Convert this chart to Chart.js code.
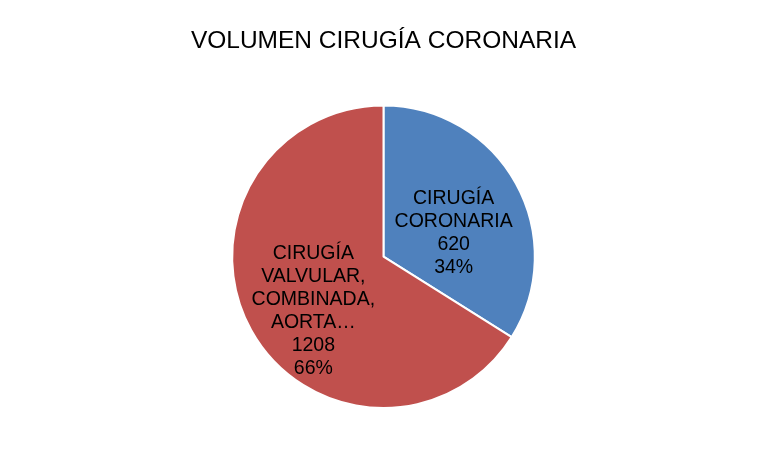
<!DOCTYPE html>
<html>
<head>
<meta charset="utf-8">
<script src="https://cdn.jsdelivr.net/npm/chart.js@4"></script>
<style>
  html, body { margin: 0; padding: 0; background: #fff; }
  #wrap { width: 767px; height: 466px; }
</style>
</head>
<body>
<div id="wrap"><canvas id="chart"></canvas></div>
<script>
const categories = ['CIRUGÍA CORONARIA', 'CIRUGÍA VALVULAR, COMBINADA, AORTA…'];
const values = [620, 1208];
const colors = ['#4F81BD', '#C0504D'];
const chartTitle = 'VOLUMEN CIRUGÍA CORONARIA';

// labels inside the slices: name split per word, then value and percent
const sliceLabels = {
  id: 'sliceLabels',
  afterDatasetsDraw(chart) {
    const ctx = chart.ctx;
    const meta = chart.getDatasetMeta(0);
    const total = values.reduce((a, b) => a + b, 0);
    ctx.save();
    ctx.font = '19.5px "Liberation Sans", Arial, sans-serif';
    ctx.fillStyle = '#000';
    ctx.textAlign = 'center';
    ctx.textBaseline = 'middle';
    const lineH = 23;
    meta.data.forEach((arc, i) => {
      const p = arc.getProps(['x', 'y', 'startAngle', 'endAngle', 'outerRadius'], true);
      const mid = (p.startAngle + p.endAngle) / 2;
      const cx = p.x + Math.cos(mid) * p.outerRadius * 0.53;
      const cy = p.y + Math.sin(mid) * p.outerRadius * 0.53 + p.outerRadius * 0.1;
      const lines = categories[i].split(' ');
      lines.push(String(values[i]));
      lines.push(Math.round(values[i] / total * 100) + '%');
      const top = cy - (lines.length - 1) * lineH / 2;
      lines.forEach((t, j) => ctx.fillText(t, cx, top + j * lineH));
    });
    ctx.restore();
  }
};

new Chart(document.getElementById('chart'), {
  type: 'pie',
  data: {
    labels: categories,
    datasets: [{
      data: values,
      backgroundColor: colors,
      borderColor: '#fff',
      borderWidth: 2
    }]
  },
  options: {
    responsive: true,
    maintainAspectRatio: false,
    animation: false,
    layout: { padding: { top: 0, bottom: 57 } },
    plugins: {
      legend: { display: false },
      tooltip: { enabled: false },
      title: {
        display: true,
        text: chartTitle,
        color: '#000',
        font: { family: '"Liberation Sans", Arial, sans-serif', size: 24.5, weight: 'normal', lineHeight: 1.2 },
        padding: { top: 27, bottom: 48 }
      }
    }
  },
  plugins: [sliceLabels]
});
</script>
</body>
</html>
